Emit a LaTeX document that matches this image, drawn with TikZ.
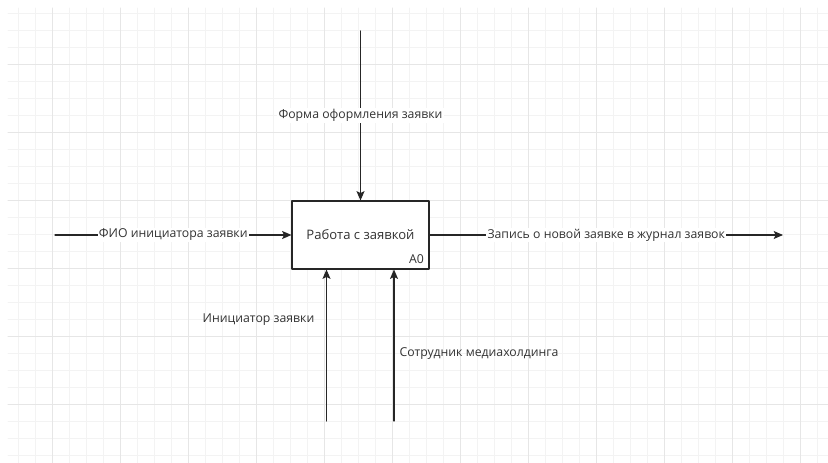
\documentclass[tikz,border=0pt]{standalone}
\usepackage{fontspec}
\setmainfont{Open Sans}
\usetikzlibrary{arrows.meta}
\definecolor{gridminor}{HTML}{F3F3F3}
\definecolor{gridmajor}{HTML}{E6E6E6}
\definecolor{textgray}{HTML}{333333}
\tikzset{
  flow/.style={line width=0.8pt,draw=black!85,-{Stealth[length=7pt,width=6pt,inset=1.5pt]}},
  lbl/.style={fill=white,text=textgray,font=\fontsize{9.2}{11}\selectfont,inner sep=1pt},
  freelbl/.style={text=textgray,font=\fontsize{9.2}{11}\selectfont,inner sep=1pt},
  func/.style={draw=black!85,line width=0.8pt,fill=white,minimum width=102.75pt,
    minimum height=51pt,inner sep=0pt,text=textgray,font=\fontsize{9.8}{11}\selectfont}
}
\begin{document}
\begin{tikzpicture}[x=0.75pt,y=-0.75pt,line cap=round,line join=round]
  \useasboundingbox (0,0) rectangle (828,463);
  \fill[white] (0,0) rectangle (828,463);
  \foreach \x in {18,35,...,818} \draw[gridminor,line width=0.6pt] (\x,8) -- (\x,463);
  \foreach \y in {13,30,...,463} \draw[gridminor,line width=0.6pt] (8,\y) -- (828,\y);
  \foreach \x in {52,120,...,818} \draw[gridmajor,line width=0.6pt] (\x,8) -- (\x,463);
  \foreach \y in {64,132,...,463} \draw[gridmajor,line width=0.6pt] (8,\y) -- (828,\y);

  \node[func] (box) at (360.5,235) {Работа с заявкой};
  \node[freelbl,anchor=south east] (num) at ([xshift=-3pt,yshift=3pt]box.south east) {A0};

  \coordinate (ctrl) at (360.5,31);
  \coordinate (inp) at (55,235);
  \coordinate (outp) at (783,235);
  \coordinate (mechA) at (326.5,421);
  \coordinate (mechB) at (394,421);

  \draw[flow] (ctrl) -- node[lbl] (ctrllbl) {Форма оформления заявки} (box.north);
  \draw[flow] (inp) -- node[lbl] (inplbl) {ФИО инициатора заявки} (box.west);
  \draw[flow] (box.east) -- node[lbl] (outlbl) {Запись о новой заявке в журнал заявок} (outp);
  \draw[flow] (mechA) -- (mechA |- box.south);
  \draw[flow] (mechB) -- (mechB |- box.south);
  \node[freelbl] (mechAlbl) at (258.5,320) {Инициатор заявки};
  \node[freelbl] (mechBlbl) at (479,354) {Сотрудник медиахолдинга};
\end{tikzpicture}
\end{document}
